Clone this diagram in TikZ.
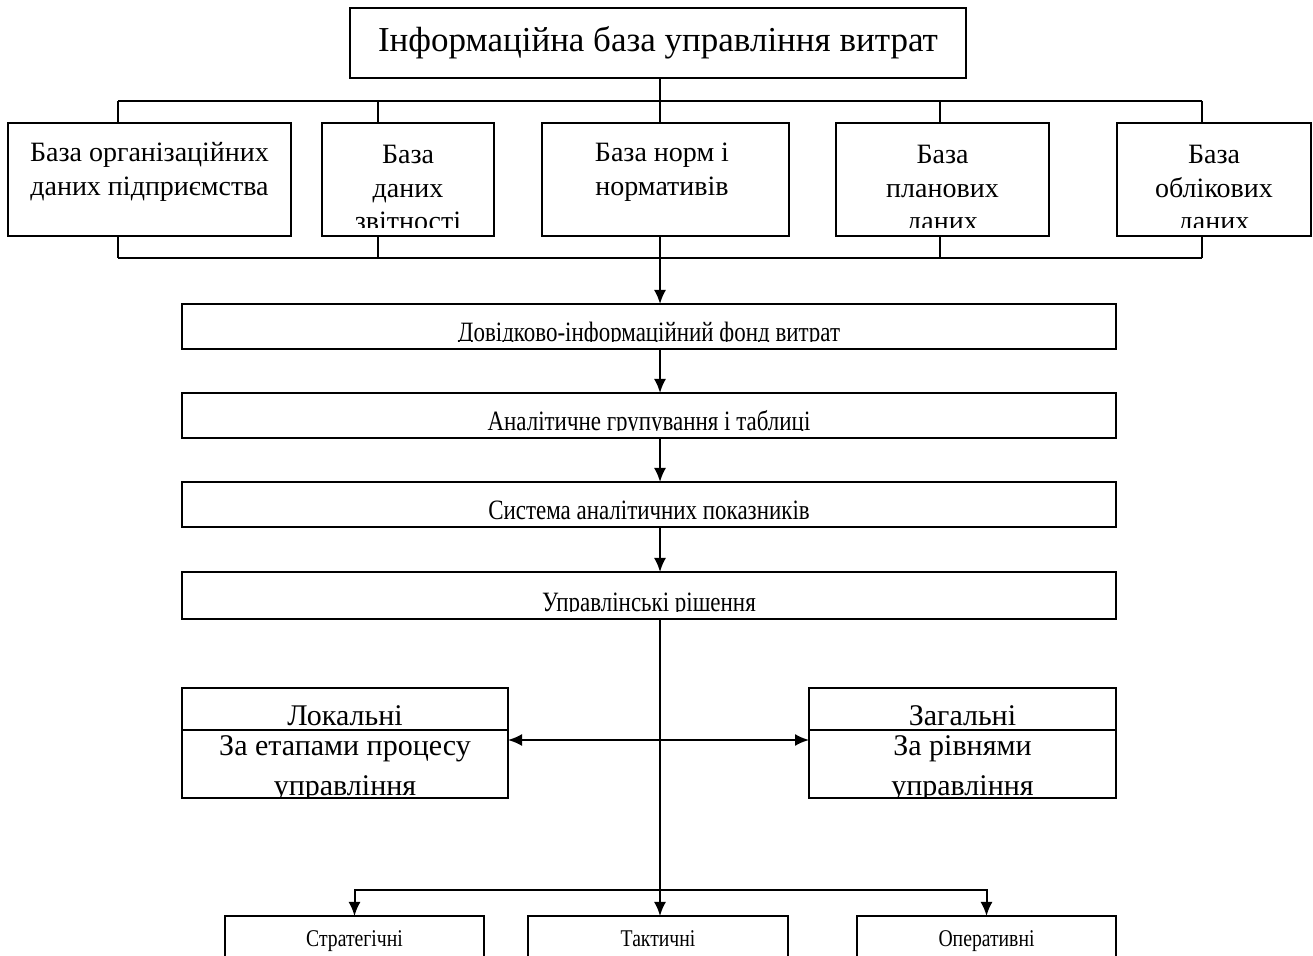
\documentclass[tikz,border=0pt]{standalone}
\usepackage{fontspec}
\setmainfont{Liberation Serif}
\newfontfamily\narrowfont[FakeStretch=0.82]{Liberation Serif}
\usetikzlibrary{arrows.meta}

\tikzset{
  box/.style={draw, line width=1pt, inner sep=0pt, outer sep=0pt},
  btext/.style={anchor=base, align=center, inner sep=0pt, font=\fontsize{14}{16.75}\selectfont},
  wtext/.style={anchor=base, inner sep=0pt, font=\narrowfont\fontsize{14}{16}\selectfont},
  ltext/.style={anchor=base, inner sep=0pt, font=\fontsize{15}{18}\selectfont},
  link/.style={line width=1pt},
  flow/.style={line width=1pt, -{Latex[length=7pt,width=6pt]}},
}

\begin{document}
\begin{tikzpicture}[x=0.5pt,y=-0.5pt]
    \clip (0,0) rectangle (1313,956);

    % top
    \node[box, minimum width=308pt, minimum height=35pt, font=\fontsize{17.5}{20}\selectfont] (base) at (658,43) {Інформаційна база управління витрат};

    % sources (base anchor = last line)
    \node[box, minimum width=141.5pt, minimum height=56.5pt] (org) at (149.5,179.5) {};
    \node[box, minimum width=86pt, minimum height=56.5pt] (rep) at (408,179.5) {};
    \node[box, minimum width=123.5pt, minimum height=56.5pt] (norm) at (665.5,179.5) {};
    \node[box, minimum width=106.5pt, minimum height=56.5pt] (plan) at (942.5,179.5) {};
    \node[box, minimum width=97pt, minimum height=56.5pt] (acc) at (1214,179.5) {};

    \begin{scope}
      \clip (org.north west) rectangle ([yshift=4pt]org.south east);
      \node[btext] (orgtext) at (149.5,195.5) {База організаційних\\даних підприємства};
    \end{scope}
    \begin{scope}
      \clip (rep.north west) rectangle ([yshift=4pt]rep.south east);
      \node[btext] (reptext) at (408,231) {База\\даних\\звітності};
    \end{scope}
    \begin{scope}
      \clip (norm.north west) rectangle ([yshift=4pt]norm.south east);
      \node[btext] (normtext) at (662,195.5) {База норм і\\нормативів};
    \end{scope}
    \begin{scope}
      \clip (plan.north west) rectangle ([yshift=4pt]plan.south east);
      \node[btext] (plantext) at (942.5,231) {База\\планових\\даних};
    \end{scope}
    \begin{scope}
      \clip (acc.north west) rectangle ([yshift=4pt]acc.south east);
      \node[btext] (acctext) at (1214,231) {База\\облікових\\даних};
    \end{scope}

    % buses
    \coordinate (tk) at (660,0);
    \coordinate (ua) at (118,101);
    \coordinate (ub) at (378,101);
    \coordinate (ud) at (940,101);
    \coordinate (ue) at (1202,101);
    \coordinate (la) at (118,258);
    \coordinate (lb) at (378,258);
    \coordinate (ld) at (940,258);
    \coordinate (le) at (1202,258);

    \draw[link] (ua) -- (ue);
    \draw[link] (base.south -| tk) -- (norm.north -| tk);
    \draw[link] (ua) -- (ua |- org.north);
    \draw[link] (ub) -- (ub |- rep.north);
    \draw[link] (ud) -- (ud |- plan.north);
    \draw[link] (ue) -- (ue |- acc.north);

    \draw[link] (la) -- (le);
    \draw[link] (la) -- (la |- org.south);
    \draw[link] (lb) -- (lb |- rep.south);
    \draw[link] (ld) -- (ld |- plan.south);
    \draw[link] (le) -- (le |- acc.south);

    % processing chain
    \node[box, minimum width=467pt, minimum height=22.5pt] (fund) at (649,326.5) {};
    \node[box, minimum width=467pt, minimum height=22.5pt] (group) at (649,415.5) {};
    \node[box, minimum width=467pt, minimum height=22.5pt] (index) at (649,504.5) {};
    \node[box, minimum width=467pt, minimum height=23.5pt] (dec) at (649,595.5) {};

    \begin{scope}
      \clip (fund.north west) rectangle ([yshift=3.5pt]fund.south east);
      \node[wtext] (fundtext) at (649,342) {Довідково-інформаційний фонд витрат};
    \end{scope}
    \begin{scope}
      \clip (group.north west) rectangle ([yshift=3.5pt]group.south east);
      \node[wtext] (grouptext) at (649,431) {Аналітичне групування і таблиці};
    \end{scope}
    \begin{scope}
      \clip (index.north west) rectangle ([yshift=3.5pt]index.south east);
      \node[wtext] (indextext) at (649,520) {Система аналітичних показників};
    \end{scope}
    \begin{scope}
      \clip (dec.north west) rectangle ([yshift=3.5pt]dec.south east);
      \node[wtext] (dectext) at (649,612) {Управлінські рішення};
    \end{scope}

    \draw[flow] (norm.south -| tk) -- (fund.north -| tk);
    \draw[flow] (fund.south -| tk) -- (group.north -| tk);
    \draw[flow] (group.south -| tk) -- (index.north -| tk);
    \draw[flow] (index.south -| tk) -- (dec.north -| tk);

    % local / general
    \node[box, minimum width=163pt, minimum height=55pt] (loc) at (345,743) {};
    \node[box, minimum width=153.5pt, minimum height=55pt] (gen) at (962.5,743) {};
    \draw[link] ([yshift=-21pt]loc.north west) -- ([yshift=-21pt]loc.north east);
    \draw[link] ([yshift=-21pt]gen.north west) -- ([yshift=-21pt]gen.north east);

    \begin{scope}
      \clip (loc.north west) rectangle ([yshift=0.5pt]loc.south east);
      \node[ltext] (loc1) at (345,726) {Локальні};
      \node[ltext] (loc2) at (345,756) {За етапами процесу};
      \node[ltext] (loc3) at (345,796) {управління};
    \end{scope}
    \begin{scope}
      \clip (gen.north west) rectangle ([yshift=0.5pt]gen.south east);
      \node[ltext] (gen1) at (962.5,726) {Загальні};
      \node[ltext] (gen2) at (962.5,756) {За рівнями};
      \node[ltext] (gen3) at (962.5,796) {управління};
    \end{scope}

    \coordinate (hub) at (660,740);
    \coordinate (fork) at (660,890);
    \draw[link] (dec.south -| tk) -- (fork);
    \draw[flow] (hub) -- (hub -| loc.east);
    \draw[flow] (hub) -- (hub -| gen.west);

    % levels
    \node[box, minimum width=129.5pt, minimum height=40pt] (str) at (354.5,956) {};
    \node[box, minimum width=130pt, minimum height=40pt] (tac) at (658,956) {};
    \node[box, minimum width=129.5pt, minimum height=40pt] (op) at (986.5,956) {};
    \node[wtext, font=\narrowfont\fontsize{12}{14}\selectfont] (strtext) at (354.5,946) {Стратегічні};
    \node[wtext, font=\narrowfont\fontsize{12}{14}\selectfont] (tactext) at (658,946) {Тактичні};
    \node[wtext, font=\narrowfont\fontsize{12}{14}\selectfont] (optext) at (986.5,946) {Оперативні};

    \draw[flow] (fork) -| (str.north);
    \draw[flow] (fork) -| (op.north);
    \draw[flow] (fork) -- (fork |- tac.north);
\end{tikzpicture}
\end{document}
